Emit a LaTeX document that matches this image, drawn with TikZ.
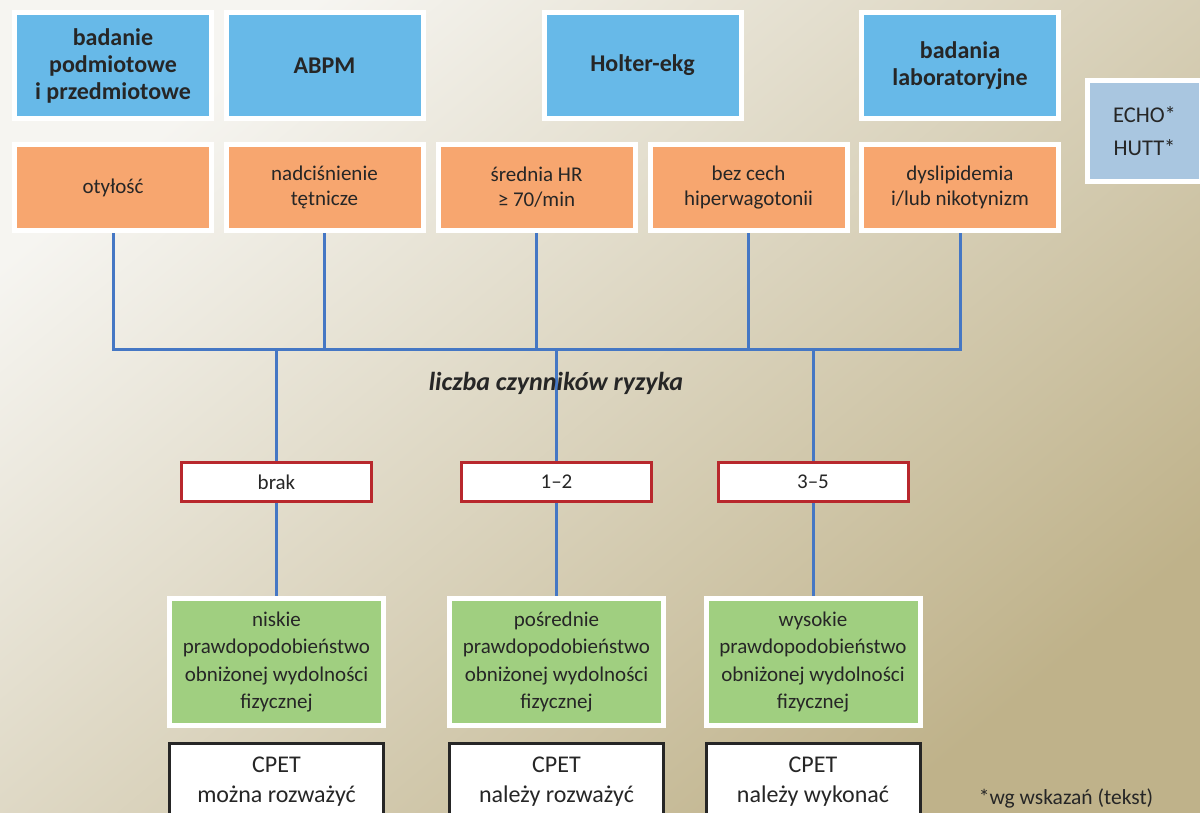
\documentclass[tikz,border=0pt]{standalone}
\usepackage{fontspec}
\setmainfont{Carlito}
\usetikzlibrary{backgrounds,shadows}
\definecolor{bluebox}{HTML}{67B9E8}
\definecolor{orangebox}{HTML}{F7A66F}
\definecolor{greenbox}{HTML}{A0CF80}
\definecolor{echobox}{HTML}{A9C6E0}
\definecolor{redframe}{HTML}{B8282D}
\definecolor{conncol}{HTML}{4577C4}
\definecolor{txt}{HTML}{262626}
\definecolor{bgA}{HTML}{F6F5F1}
\definecolor{bgB}{HTML}{E2DECD}
\definecolor{bgC}{HTML}{BFB28A}
\begin{document}
\begin{tikzpicture}[x=1pt,y=-1pt,
  every node/.style={text=txt, align=center, inner sep=0pt},
  shade/.style={drop shadow={shadow xshift=1.5pt, shadow yshift=-1.5pt, opacity=0.18, fill=black}},
  headbox/.style={shade, fill=bluebox, draw=white, line width=5pt, minimum width=197pt, minimum height=106pt,
    font=\fontsize{24}{27}\selectfont\bfseries},
  factbox/.style={shade, fill=orangebox, draw=white, line width=5pt, minimum width=197pt, minimum height=86pt,
    font=\fontsize{21}{25}\selectfont},
  countbox/.style={shade, fill=white, draw=redframe, line width=3pt, minimum width=190pt, minimum height=39pt,
    font=\fontsize{21}{25}\selectfont},
  probbox/.style={shade, fill=greenbox, draw=white, line width=5pt, minimum width=214pt, minimum height=127pt,
    font=\fontsize{21}{27.5}\selectfont},
  cpetbox/.style={fill=white, draw=black!85, line width=3pt, minimum width=214pt, minimum height=100pt},
  cpettext/.style={font=\fontsize{24}{30}\selectfont},
  conn/.style={draw=conncol, line width=3pt}
]
\clip (0,0) rectangle (1200,813);
\begin{scope}[on background layer]
\shade[top color=bgA, middle color=bgB, bottom color=bgC, shading angle=40] (0,0) rectangle (1200,813);
\end{scope}

% top row
\node[headbox] (h1) at (113,65.5) {badanie\\podmiotowe\\i przedmiotowe};
\node[headbox] (h2) at (324.5,65.5) {ABPM};
\node[headbox] (h3) at (642.5,65.5) {Holter-ekg};
\node[headbox] (h4) at (960,65.5) {badania\\laboratoryjne};
\node[shade, fill=echobox, draw=white, line width=5pt, minimum width=114pt, minimum height=101pt,
  font=\fontsize{22.5}{33}\selectfont] (echo) at (1144.5,131) {ECHO*\\HUTT*};

% factors
\node[factbox] (o1) at (113,187.5) {otyłość};
\node[factbox] (o2) at (324.5,187.5) {nadciśnienie\\tętnicze};
\node[factbox] (o3) at (536.5,187.5) {średnia HR\\≥ 70/min};
\node[factbox] (o4) at (748.5,187.5) {bez cech\\hiperwagotonii};
\node[factbox] (o5) at (960,187.5) {dyslipidemia\\i/lub nikotynizm};

\node[font=\fontsize{26}{30}\selectfont\bfseries\itshape] (lab) at (556,383) {liczba czynników ryzyka};

% counts
\node[countbox] (r1) at (276.5,482) {brak};
\node[countbox] (r2) at (556.5,482) {1–2};
\node[countbox] (r3) at (813,482) {3–5};

% probabilities
\node[probbox] (g1) at (276.5,662) {niskie\\prawdopodobieństwo\\obniżonej wydolności\\fizycznej};
\node[probbox] (g2) at (556.5,662) {pośrednie\\prawdopodobieństwo\\obniżonej wydolności\\fizycznej};
\node[probbox] (g3) at (813,662) {wysokie\\prawdopodobieństwo\\obniżonej wydolności\\fizycznej};

% CPET
\node[cpetbox] (c1) at (276.5,793.5) {};
\node[cpetbox] (c2) at (556.5,793.5) {};
\node[cpetbox] (c3) at (813,793.5) {};
\node[cpettext] (c1t) at (276.5,782) {CPET\\można rozważyć};
\node[cpettext] (c2t) at (556.5,782) {CPET\\należy rozważyć};
\node[cpettext] (c3t) at (813,782) {CPET\\należy wykonać};

\node[font=\fontsize{21.5}{24}\selectfont] (foot) at (1066,798) {*wg wskazań (tekst)};

% connectors
\coordinate (bus) at (112,349);
\begin{scope}[on background layer]
  \draw[conn] (o1.center) -- (o1.center |- bus) -- (o5.center |- bus) -- (o5.center);
  \draw[conn] (o2.center) -- (o2.center |- bus);
  \draw[conn] (o3.center) -- (o3.center |- bus);
  \draw[conn] (o4.center) -- (o4.center |- bus);
  \draw[conn] (r1.center |- bus) -- (g1.center);
  \draw[conn] (r2.center |- bus) -- (g2.center);
  \draw[conn] (r3.center |- bus) -- (g3.center);
\end{scope}
\end{tikzpicture}
\end{document}
